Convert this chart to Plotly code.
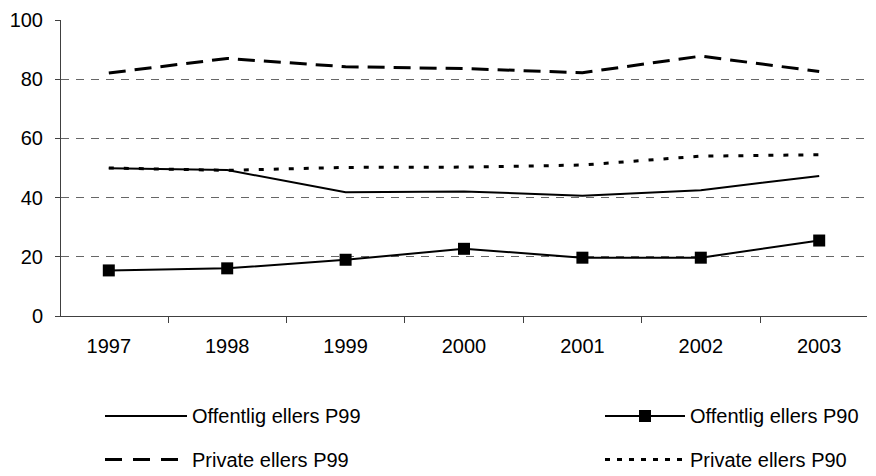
import plotly.graph_objects as go

years = ["1997", "1998", "1999", "2000", "2001", "2002", "2003"]
offentlig_p99 = [49.9, 49.3, 41.8, 42.1, 40.6, 42.5, 47.3]
offentlig_p90 = [15.4, 16.1, 19.0, 22.7, 19.7, 19.7, 25.5]
private_p99 = [82.1, 87.0, 84.2, 83.6, 82.2, 87.8, 82.6]
private_p90 = [50.0, 49.2, 50.2, 50.3, 51.0, 54.0, 54.5]
y_ticks = [0, 20, 40, 60, 80, 100]
grid_vals = [20, 40, 60, 80]

FONT = "Liberation Sans, Arial, sans-serif"
W, H = 876, 476
L, R, T, B = 61, 9, 17, 160
PW, PH = W - L - R, H - T - B


def px(x):
    return (x - L) / PW


def py(y):
    return (H - B - y) / PH


fig = go.Figure()
fig.add_trace(go.Scatter(x=years, y=private_p99, mode="lines", name="Private ellers P99",
                         line=dict(color="black", width=3, dash="17px,9px")))
fig.add_trace(go.Scatter(x=years, y=private_p90, mode="lines", name="Private ellers P90",
                         line=dict(color="black", width=3, dash="5px,10px")))
fig.add_trace(go.Scatter(x=years, y=offentlig_p99, mode="lines", name="Offentlig ellers P99",
                         line=dict(color="black", width=2)))
fig.add_trace(go.Scatter(x=years, y=offentlig_p90, mode="lines+markers", name="Offentlig ellers P90",
                         line=dict(color="black", width=2),
                         marker=dict(symbol="square", size=12, color="black")))
# invisible trace to carry the grid axis
fig.add_trace(go.Scatter(x=years, y=offentlig_p99, yaxis="y2", mode="lines",
                         line=dict(width=0), hoverinfo="skip", showlegend=False, opacity=0))

fig.update_layout(
    width=W, height=H,
    margin=dict(l=L, r=R, t=T, b=B, pad=0),
    paper_bgcolor="white", plot_bgcolor="white",
    showlegend=False,
    font=dict(family=FONT, size=20, color="black"),
    xaxis=dict(type="category", showgrid=False, showline=True, linecolor="#404040", linewidth=1,
               ticks="outside", ticklen=6, tickcolor="#404040", tickson="boundaries",
               ticklabelstandoff=12, tickfont=dict(size=20), zeroline=False),
    yaxis=dict(range=[0, 100], tickvals=y_ticks, showgrid=False, showline=True,
               linecolor="#404040", linewidth=1, ticks="outside", ticklen=5, tickcolor="#404040",
               ticklabelstandoff=8, zeroline=False, tickfont=dict(size=20)),
    yaxis2=dict(range=[0, 100], overlaying="y", tickvals=grid_vals, showgrid=True,
                gridcolor="#666666", gridwidth=1, griddash="8px,7px", showticklabels=False,
                showline=False, zeroline=False, ticks=""),
)

# manual legend (2 x 2 grid)
rows = [417, 461]
left_line = (105, 187)
right_line = (605, 685)
entries = [
    ("Offentlig ellers P99", left_line, rows[0], "solid", 2, False),
    ("Offentlig ellers P90", right_line, rows[0], "solid", 2, True),
    ("Private ellers P99", left_line, rows[1], "17px,11px", 3, False),
    ("Private ellers P90", right_line, rows[1], "5px,7px", 3, False),
]
for label, (x0, x1), yr, dash, w, marker in entries:
    fig.add_shape(type="line", xref="paper", yref="paper", x0=px(x0), x1=px(x1),
                  y0=py(yr), y1=py(yr), line=dict(color="black", width=w, dash=dash))
    if marker:
        cx = (x0 + x1) / 2
        fig.add_shape(type="rect", xref="paper", yref="paper", xsizemode="pixel",
                      ysizemode="pixel", xanchor=px(cx), yanchor=py(yr),
                      x0=-6, x1=6, y0=-6, y1=6, fillcolor="black", line=dict(width=0))
    fig.add_annotation(text=label, xref="paper", yref="paper", x=px(x1 + 3), y=py(yr),
                       xanchor="left", yanchor="middle", showarrow=False,
                       font=dict(size=20, family=FONT, color="black"))

fig.write_html("out.html", config={"displayModeBar": False},
               post_script="document.body.style.margin='0';document.body.style.overflow='hidden';")
